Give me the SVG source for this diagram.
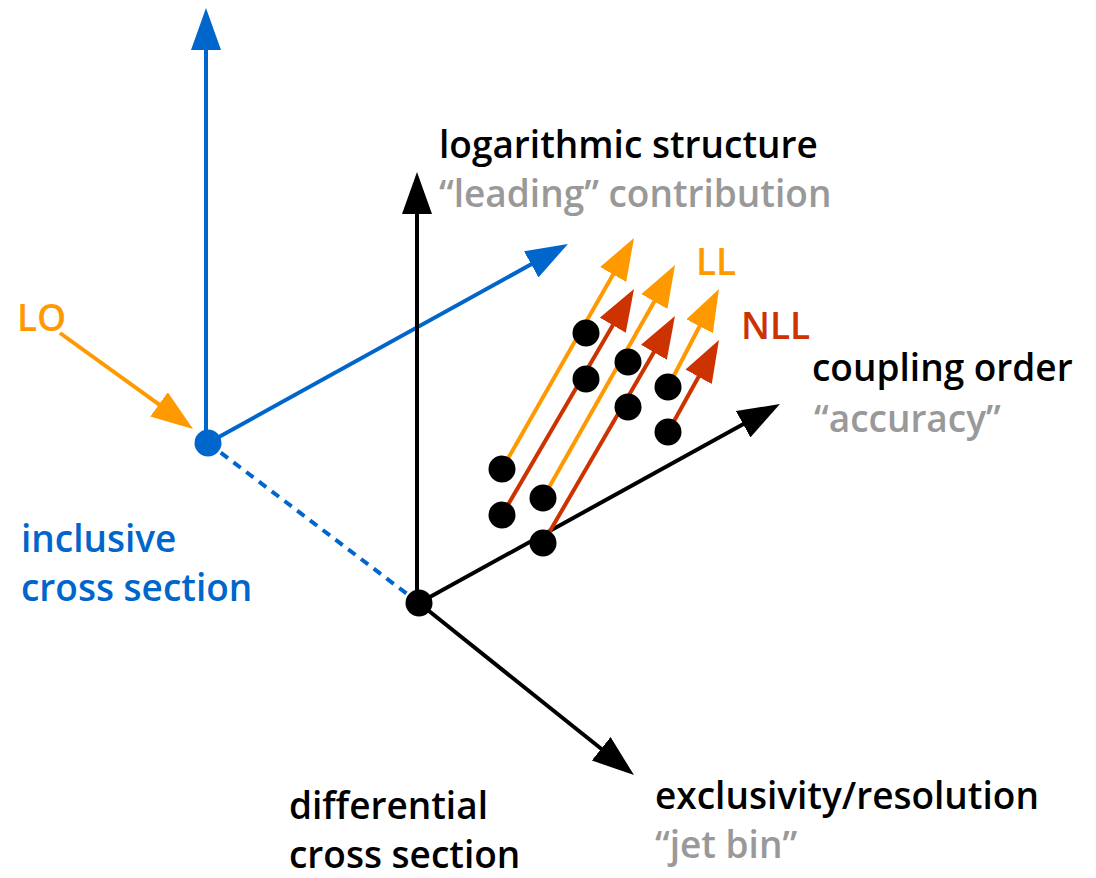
<svg xmlns="http://www.w3.org/2000/svg" width="1096" height="878" viewBox="0 0 1096 878">
<style>
text{font-family:"Open Sans","Noto Sans","Liberation Sans",sans-serif;font-weight:600;font-size:37px}
.k{fill:#000}.g{fill:#999}.b{fill:#0066cc}.o{fill:#ff9900}.r{fill:#cc3300}
.lk{stroke:#000;stroke-width:4;fill:none}
.lb{stroke:#0066cc;stroke-width:4;fill:none}
.lo{stroke:#ff9900;stroke-width:4;fill:none}
.lr{stroke:#cc3300;stroke-width:4;fill:none}
</style>
<defs>
<marker id="ak" markerUnits="userSpaceOnUse" viewBox="0 0 42 30" markerWidth="42" markerHeight="30" refX="20" refY="15" orient="auto"><path d="M0,0 L42,15 L0,30 z" fill="#000"/></marker>
<marker id="ab" markerUnits="userSpaceOnUse" viewBox="0 0 42 30" markerWidth="42" markerHeight="30" refX="20" refY="15" orient="auto"><path d="M0,0 L42,15 L0,30 z" fill="#0066cc"/></marker>
<marker id="ao" markerUnits="userSpaceOnUse" viewBox="0 0 42 30" markerWidth="42" markerHeight="30" refX="20" refY="15" orient="auto"><path d="M0,0 L42,15 L0,30 z" fill="#ff9900"/></marker>
<marker id="ar" markerUnits="userSpaceOnUse" viewBox="0 0 42 30" markerWidth="42" markerHeight="30" refX="20" refY="15" orient="auto"><path d="M0,0 L42,15 L0,30 z" fill="#cc3300"/></marker>
</defs>
<rect width="1096" height="878" fill="#fff"/>
<g id="connectors">
<line class="lb" x1="208" y1="443" x2="419" y2="603" stroke-dasharray="9 7"/>
<line class="lb" x1="206" y1="443" x2="206" y2="30" marker-end="url(#ab)"/>
<line class="lb" x1="208" y1="443" x2="548.7" y2="254.6" marker-end="url(#ab)"/>
<line class="lo" x1="60" y1="333" x2="175.2" y2="416.1" marker-end="url(#ao)"/>
<line class="lk" x1="417" y1="603" x2="417" y2="194" marker-end="url(#ak)"/>
<line class="lk" x1="419" y1="603" x2="760.7" y2="414.6" marker-end="url(#ak)"/>
<line class="lk" x1="419" y1="603" x2="616.8" y2="761.3" marker-end="url(#ak)"/>
<line class="lo" x1="502" y1="469" x2="623.1" y2="257.1" marker-end="url(#ao)"/>
<line class="lr" x1="502" y1="515" x2="622.9" y2="308" marker-end="url(#ar)"/>
<line class="lo" x1="543" y1="498" x2="664.2" y2="284.1" marker-end="url(#ao)"/>
<line class="lr" x1="543" y1="543" x2="663.9" y2="335" marker-end="url(#ar)"/>
<line class="lo" x1="668" y1="387" x2="708.8" y2="308.5" marker-end="url(#ao)"/>
<line class="lr" x1="668" y1="432" x2="708.3" y2="359.3" marker-end="url(#ar)"/>
</g>
<g id="node-inclusive">
<circle cx="208" cy="443" r="13.5" fill="#0066cc"/>
<text class="b" x="21" y="552">inclusive</text>
<text class="b" x="21" y="601">cross section</text>
</g>
<g id="node-LO"><text class="o" x="17" y="331">LO</text></g>
<g id="node-differential">
<circle cx="419" cy="603" r="13.5" fill="#000"/>
<text class="k" x="289" y="819">differential</text>
<text class="k" x="289" y="868">cross section</text>
</g>
<g id="node-log">
<text class="k" x="439" y="158">logarithmic structure</text>
<text class="g" x="439" y="207">“leading” contribution</text>
</g>
<g id="node-coupling">
<text class="k" x="812" y="381">coupling order</text>
<text class="g" x="814" y="432">“accuracy”</text>
</g>
<g id="node-excl">
<text class="k" x="655" y="809">exclusivity/resolution</text>
<text class="g" x="655" y="858">“jet bin”</text>
</g>
<g id="node-LL"><text class="o" x="696" y="275">LL</text></g>
<g id="node-NLL"><text class="r" x="741" y="339">NLL</text></g>
<g id="node-points" fill="#000">
<circle cx="586" cy="333" r="13.5"/>
<circle cx="586" cy="379" r="13.5"/>
<circle cx="628" cy="362" r="13.5"/>
<circle cx="628" cy="407" r="13.5"/>
<circle cx="668" cy="387" r="13.5"/>
<circle cx="668" cy="432" r="13.5"/>
<circle cx="502" cy="469" r="13.5"/>
<circle cx="502" cy="515" r="13.5"/>
<circle cx="543" cy="498" r="13.5"/>
<circle cx="543" cy="543" r="13.5"/>
</g>
</svg>
